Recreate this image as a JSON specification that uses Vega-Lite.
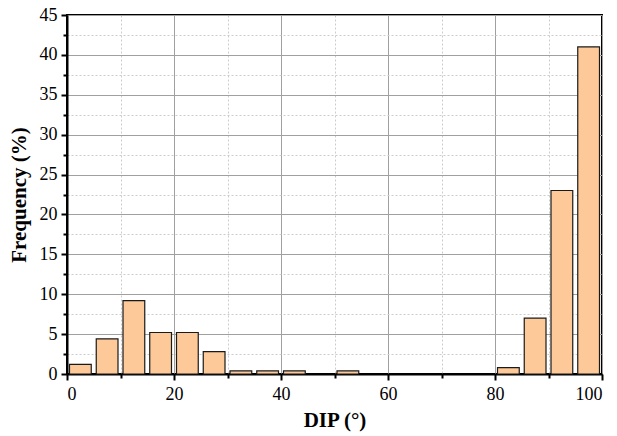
{
  "$schema": "https://vega.github.io/schema/vega-lite/v6.json",
  "autosize": "none",
  "padding": {"left": 67, "top": 15, "right": 15, "bottom": 62},
  "width": 535,
  "height": 359,
  "background": "white",
  "config": {
    "view": {"stroke": "black", "strokeWidth": 2},
    "font": "Liberation Serif"
  },
  "data": {
    "values": [
      {"start": 0, "end": 5, "freq": 1.2},
      {"start": 5, "end": 10, "freq": 4.4},
      {"start": 10, "end": 15, "freq": 9.2},
      {"start": 15, "end": 20, "freq": 5.2},
      {"start": 20, "end": 25, "freq": 5.2},
      {"start": 25, "end": 30, "freq": 2.8},
      {"start": 30, "end": 35, "freq": 0.4},
      {"start": 35, "end": 40, "freq": 0.4},
      {"start": 40, "end": 45, "freq": 0.4},
      {"start": 50, "end": 55, "freq": 0.4},
      {"start": 80, "end": 85, "freq": 0.8},
      {"start": 85, "end": 90, "freq": 7.0},
      {"start": 90, "end": 95, "freq": 23},
      {"start": 95, "end": 100, "freq": 41}
    ]
  },
  "mark": {"type": "bar", "fill": "#FDC998", "stroke": "#1a1a1a", "strokeWidth": 1.2, "xOffset": 2.5, "x2Offset": -2.5},
  "encoding": {
    "x": {
      "field": "start", "type": "quantitative",
      "scale": {"domain": [0, 100], "nice": false},
      "axis": {
        "title": "DIP (°)",
        "values": [0, 10, 20, 30, 40, 50, 60, 70, 80, 90, 100],
        "labelExpr": "datum.value % 20 === 0 ? datum.label : ''",
        "labelFont": "Liberation Serif", "titleFont": "Liberation Serif",
        "labelFontSize": 18, "labelColor": "black", "labelPadding": 5,
        "titleFontSize": 21, "titleFontWeight": "bold", "titleColor": "black", "titlePadding": 6,
        "domainColor": "black", "domainWidth": 2,
        "tickColor": "black", "tickWidth": 2,
        "tickSize": {"condition": {"test": "datum.value % 20 === 0", "value": 6}, "value": 4},
        "grid": true,
        "gridColor": {"condition": {"test": "datum.value % 20 === 0", "value": "#a0a0a0"}, "value": "#cccccc"},
        "gridDash": {"condition": {"test": "datum.value % 20 === 0", "value": []}, "value": [2, 2]},
        "gridWidth": 1
      }
    },
    "x2": {"field": "end"},
    "y": {
      "field": "freq", "type": "quantitative",
      "scale": {"domain": [0, 45], "nice": false},
      "axis": {
        "title": "Frequency (%)",
        "values": [0, 2.5, 5, 7.5, 10, 12.5, 15, 17.5, 20, 22.5, 25, 27.5, 30, 32.5, 35, 37.5, 40, 42.5, 45],
        "labelExpr": "datum.value % 5 === 0 ? datum.label : ''",
        "labelFont": "Liberation Serif", "titleFont": "Liberation Serif",
        "labelFontSize": 18, "labelColor": "black", "labelPadding": 4,
        "titleFontSize": 21, "titleFontWeight": "bold", "titleColor": "black", "titlePadding": 10,
        "domainColor": "black", "domainWidth": 2,
        "tickColor": "black", "tickWidth": 2,
        "tickSize": {"condition": {"test": "datum.value % 5 === 0", "value": 6}, "value": 4},
        "grid": true,
        "gridColor": {"condition": {"test": "datum.value % 5 === 0", "value": "#a0a0a0"}, "value": "#cccccc"},
        "gridDash": {"condition": {"test": "datum.value % 5 === 0", "value": []}, "value": [2, 2]},
        "gridWidth": 1
      }
    },
    "y2": {"datum": 0}
  }
}
